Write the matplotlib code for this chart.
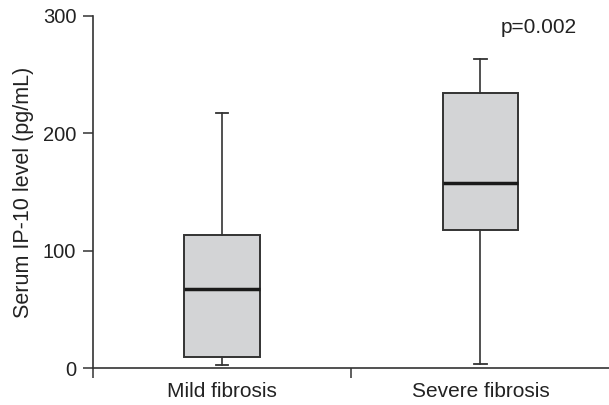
import matplotlib.pyplot as plt

# values (pg/mL)
groups = ['Mild fibrosis', 'Severe fibrosis']
whislo = [3, 3.5]
q1 = [10, 117.5]
med = [67.5, 158]
q3 = [113, 234]
whishi = [217, 263]
p_text = 'p=0.002'

plt.rcParams['font.family'] = ['Liberation Sans', 'DejaVu Sans']

fig = plt.figure(figsize=(6.09, 4.05), dpi=100)
ax = fig.add_axes([0.1527, 0.0906, 0.8483, 0.8706])

stats = []
for i in range(len(groups)):
    stats.append({'label': groups[i], 'whislo': whislo[i], 'q1': q1[i], 'med': med[i],
                  'q3': q3[i], 'whishi': whishi[i], 'fliers': []})

ax.bxp(stats, positions=[1, 2], widths=0.293, capwidths=0.047, patch_artist=True,
       showfliers=False,
       boxprops=dict(facecolor='#d3d4d6', edgecolor='#333333', linewidth=1.4),
       medianprops=dict(color='#1a1a1a', linewidth=2.5),
       whiskerprops=dict(color='#333333', linewidth=1.2),
       capprops=dict(color='#333333', linewidth=1.3))

ax.set_xlim(0.5, 2.5)
ax.set_ylim(0, 300)
ax.set_yticks([0, 100, 200, 300])
ax.set_xticks([1, 2])
ax.set_xticklabels(groups, fontsize=15, color='#222222')
ax.set_xticks([0.5, 1.5, 2.5], minor=True)
ax.tick_params(axis='x', which='major', length=0, pad=10)
ax.tick_params(axis='x', which='minor', length=7, width=1.1, color='#333333')
ax.tick_params(axis='y', length=7, width=1.1, color='#333333', labelsize=14.5,
               labelcolor='#222222', pad=5)

for s in ['top', 'right']:
    ax.spines[s].set_visible(False)
for s in ['left', 'bottom']:
    ax.spines[s].set_color('#333333')
    ax.spines[s].set_linewidth(1.2)

ax.set_ylabel('Serum IP-10 level (pg/mL)', fontsize=15.5, labelpad=6, color='#222222')
ax.text(2.225, 290, p_text, fontsize=15, ha='center', va='center', color='#222222')

fig.savefig('out.png', dpi=100)
